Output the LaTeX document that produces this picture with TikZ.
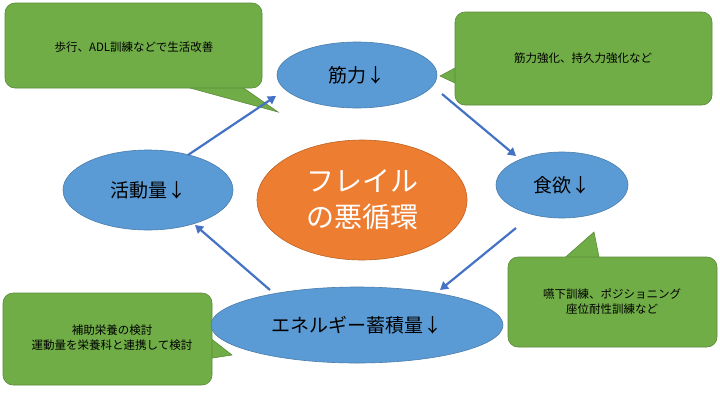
\documentclass[tikz,border=0pt]{standalone}
\usepackage{fontspec}
\setmainfont{Noto Sans CJK JP}
\usetikzlibrary{shapes.geometric,arrows.meta}
\definecolor{eblue}{HTML}{5B9BD5}
\definecolor{cgreen}{HTML}{70AD47}
\definecolor{corange}{HTML}{ED7D31}
\definecolor{abl}{HTML}{4472C4}
\begin{document}
\begin{tikzpicture}[x=1pt,y=-1pt,
 ell/.style={ellipse,fill=eblue,draw=eblue!80!black,line width=0.6pt,inner sep=0pt,font=\fontsize{19}{22}\selectfont},
 box/.style={fill=cgreen,draw=cgreen!80!black,line width=0.6pt,rounded corners=10pt},
 tail/.style={fill=cgreen,draw=cgreen!80!black,line width=0.6pt},
 ctext/.style={font=\fontsize{11.5}{15}\selectfont,align=center},
 arr/.style={draw=abl,line width=2.2pt,-{Triangle[length=8pt,width=9pt]}}]
\useasboundingbox (0,0) rectangle (720,405);
% callouts
\draw[tail] (225,75) -- (278,112) -- (190,88) -- cycle;
\draw[box] (5,3) rectangle (262,88);
\draw[tail] (470,60) -- (440,76) -- (470,90) -- cycle;
\draw[box] (455,12) rectangle (712,105);
\draw[tail] (560,262) -- (594,232) -- (600,262) -- cycle;
\draw[box] (508,257) rectangle (717,347);
\draw[tail] (200,330) -- (232,355) -- (200,360) -- cycle;
\draw[box] (3,293) rectangle (212,385);
\node[ctext] (c1) at (134,47) {歩行、ADL訓練などで生活改善};
\node[ctext] (c2) at (583,58) {筋力強化、持久力強化など};
\node[ctext] (c3) at (612,302) {嚥下訓練、ポジショニング\\座位耐性訓練など};
\node[ctext] (c4) at (112,338) {補助栄養の検討\\運動量を栄養科と連携して検討};
% ellipses
\node[ell,minimum width=160pt,minimum height=66pt] (k) at (357,75) {筋力↓};
\node[ell,minimum width=132pt,minimum height=66pt] (s) at (562,185) {食欲↓};
\node[ell,minimum width=170pt,minimum height=80pt] (a) at (148,190) {活動量↓};
\node[ell,minimum width=292pt,minimum height=76pt] (e) at (357,325) {エネルギー蓄積量↓};
\node[ellipse,fill=corange,draw=corange!80!black,line width=0.6pt,minimum width=210pt,minimum height=120pt,text=white,align=center,font=\fontsize{28}{36}\selectfont] (f) at (362,200) {フレイル\\の悪循環};
% arrows
\coordinate (a1) at (188,155); \coordinate (a2) at (276,96);
\coordinate (b1) at (442,94); \coordinate (b2) at (516,156);
\coordinate (d1) at (516,228); \coordinate (d2) at (440,290);
\coordinate (g1) at (270,290); \coordinate (g2) at (195,225);
\draw[arr] (a1) -- (a2);
\draw[arr] (b1) -- (b2);
\draw[arr] (d1) -- (d2);
\draw[arr] (g1) -- (g2);
\end{tikzpicture}
\end{document}
